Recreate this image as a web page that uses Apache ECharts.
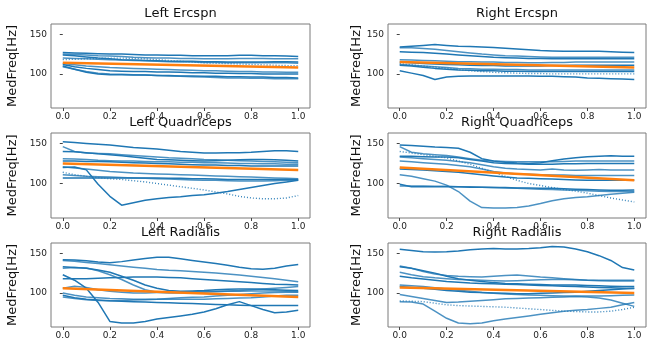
<!DOCTYPE html>
<html>
<head>
<meta charset="utf-8">
<script src="https://cdn.jsdelivr.net/npm/echarts@6/dist/echarts.min.js"></script>
<style>
  html, body { margin: 0; padding: 0; background: #fff; }
  #chart { width: 651px; height: 341px; }
</style>
</head>
<body>
<div id="chart"></div>
<script>
// sample positions along the normalised time axis
const xs = [0, 0.05, 0.1, 0.15, 0.2, 0.25, 0.3, 0.35, 0.4, 0.45, 0.5, 0.55, 0.6, 0.65, 0.7, 0.75, 0.8, 0.85, 0.9, 0.95, 1];
const xTicks = [0, 0.2, 0.4, 0.6, 0.8, 1];
const yTicks = [100, 150];
const titles = ['Left Ercspn', 'Right Ercspn', 'Left Quadriceps', 'Right Quadriceps', 'Left Radialis', 'Right Radialis'];

const leftErcspn = [
  [127,126.5,126,125.5,125,125,124.5,124,124,123.5,123.5,123,123,123,123,123.5,123.5,123,123,122.5,122],
  [125,124.5,124,123,122.5,122,121,120.5,120,120,119.5,119.5,119,119,119,119.5,119.5,119.5,119,119,119],
  [124,123,121.5,120,119,118,117.5,117,116.5,116,116,116,115.5,115.5,115,115,115,115,115.5,115.5,115],
  [120,119.5,119,118.5,118,117.5,117,116.5,116,115.5,115,115,114.5,114.5,114,114,114,114,114,114,113.5],
  [118,118.5,119,119.5,120,120,119.5,119,118,117,116,115,114,113.5,113,112.5,112,111.5,111,110.5,110.5],
  [113,111.5,110,109,108,107.5,107,106.5,106,105.5,105,104.5,104,104,103.5,103,103,102.5,102.5,102,102],
  [112,109,107,105.5,104,103.5,103,103,102.5,102.5,102,101.5,101.5,101,101,100.5,100.5,100,100,100,100],
  [109,106,103,101,100,99.5,99,98.5,98,97.5,97,96.5,96,95.5,95,95,94.5,94.5,94,94,94],
  [110,106,102,100,99,99,98.5,98.5,98,98,97.5,97.5,97,97,96.5,96.5,96,96,95.5,95.5,95]
];
const rightErcspn = [
  [134,135,136,137,136,135,134.5,134,133.5,132.5,131.5,130.5,129.5,129,128.5,128.5,128.5,128.5,128,127.5,127],
  [133,133,132,131,129.5,128,126.5,125,124,123,122.5,122,121.5,121,121,121,121,121,121,121,121],
  [128,127.5,127,126,125,124,123,122,121,120.5,120,119.5,119.5,119,119,119,119,119,119,119,119],
  [118,117.5,117,116.5,116,115.5,115.5,115,115,114.5,114.5,114,114,114.5,114.5,115,115,115,115,115,115],
  [115,114,113,112.5,112,111.5,111,110.5,110.5,110,110,110,110,110.5,110.5,111,111,111,111,111,111],
  [112,111,110,109,108,107,106.5,106,106,105.5,105.5,105,105,105,105,105,105,105,105,105,105],
  [111,110,108.5,107,106,105,104.5,104,104,103.5,103.5,103,103,103,103,103,103,103,103,103,103],
  [113,111.5,110,108.5,107,105.5,104,103,102,101.5,101,100.5,100.5,100,100,100,100,100,100,100,100],
  [104,101,98,93,96,97,97.5,97.5,97.5,97.5,97.5,97.5,97,97,96.5,96,95,94.5,94,93.5,93]
];
const leftQuad = [
  [152,151,150,149,148,146.5,145,144,143,141.5,140,139,138,138,138.5,138.5,139,140,141,141,140],
  [146,140,138,137.5,137,136,135,134,133,132,131.5,131,130,129.5,129,128.5,128,127.5,127,126.5,126],
  [140,139.5,138.5,137,136,134.5,133,131.5,130,129.5,129,128.5,128,128.5,129,129.5,130,130,129.5,129,128],
  [131,130.5,130,129,128.5,128,128,127.5,127,127,126.5,126.5,126,126,125.5,125,125,124.5,124.5,124,124],
  [128,128,127.5,127.5,127,126.5,126,125.5,125,124.5,124,123.5,123,123,122.5,122.5,122,122,122,122,122],
  [121,119.5,118,116.5,115,114,113,112.5,112,111.5,111,110.5,110,109.5,109,108.5,108,107.5,107,106.5,106],
  [120,120.5,117,99,84,73,76,79,81,82.5,83.5,85,86,88,90,92.5,95,97.5,100,102,104],
  [114,111,109,107.5,106,105,103.5,102,100,98,96,94,92,89.5,87,84,82,81,81,82,85],
  [107,107,107,107,107,107,107,107,107,106.5,106.5,106,106,105.5,105,105,105,105,105,105,105],
  [111,110,109,108.5,108,107.5,107,106.5,106,105.5,105,104.5,104,104,103.5,103,103,103,103.5,104,104]
];
const rightQuad = [
  [148,147.5,146.5,145.5,145,144,139,131,128,126.5,125.5,125,126,128.5,130.5,132,133.5,134,134.5,134,134],
  [146,139,137,136,135,133,131,129,128,127.5,127,127,127,127,127.5,128,128,128,128,128,128],
  [134,134,133.5,133,133,132,130,128,126,125,124.5,124,124,124,124.5,124.5,125,125,125,125,125],
  [133,132,131,130,129,127.5,126,123.5,121,119,118,117.5,117,118,117,116.5,117,117.5,117,117,117],
  [140,138,136,134,132,128,124,119,114,109,104,100,97.5,95,92.5,90.5,88,85,82,79.5,77],
  [128,127,126,125,124,122.5,121,118,115,113,112,111.5,111,110.5,110.5,110,110,110,110,110,110],
  [118,117.5,117,116,115,114,112.5,111,109.5,108,107,106.5,106,105.5,105,104.5,104,104,104,104,104],
  [111,109,106,103,98,90,78,70,69.5,69.5,70,72,75,78.5,81,82.5,83.5,85,86.5,88,89],
  [99,96,96,96,96,96,95.5,95.5,95,95,94.5,94.5,94,94,93.5,93,92.5,92,91.5,91.5,92],
  [97,97,97,96.5,96.5,96,96,95.5,95,94.5,94,93.5,93,92.5,92,91.5,91,90.5,90,90,90]
];
const leftRad = [
  [142,141.5,140.5,139,138,139.5,141.5,143.5,145,145,143,141,139,137,135,132.5,130.5,130,131,134,136],
  [141,140,138.5,137,135.5,134,132.5,131,129.5,128.5,128,127,126,125,124,122.5,121,119.5,118,116,114],
  [133,132,131,129,126,121,116,110,106,103,102,102.5,103,104,104.5,105,105,104.5,104,103.5,103],
  [131,132,131.5,128,123,117,110,104,101,100,100,100.5,101,101.5,102,102,102.5,102.5,102.5,102,101.5],
  [123,116,106,88,64,62,62,64,67,69,71,73,76,80,85,89,84,79,75,76,78],
  [106,108.5,107,104,102,101,100,100,100.5,101,101,101.5,102,102,102.5,103,104,105,106,107,108],
  [118,118,118,118.5,119,119.5,120,120,120,119.5,119,118,117,116,115,114,113,112,111,110.5,110],
  [100,97,95,94,93,92.5,92,92,92,92,92,92,92,92.5,93,93.5,94,95,96,97,97],
  [97,94,92,91,90,89.5,89,88.5,88,87.5,87,86.5,86,85.5,85,84.5,84,84,84,84,84],
  [95,93,91.5,90.5,90,90.5,91,91.5,92,93,94,94.5,95,96,97,98,99,100,100.5,101,101]
];
const rightRad = [
  [155,153.5,152,151.5,152,153,154.5,155.5,156,155.5,155.5,156,157,158.5,158,155.5,152,147,141,132,129],
  [134,131,127,124,122,121,120.5,120,121,122,122.5,121.5,120,119,118,117,116,115.5,115,115,115],
  [133,131,128,125,121,118,116,114.5,113,112,111.5,111,110.5,110,110,110,109.5,109,108.5,108,108],
  [126,123,120.5,119,118,117,116.5,116,115.5,115,115.5,116,116.5,117,117,116.5,116,116,116,116,116],
  [121,119,117.5,116,114.5,113.5,112.5,112,111.5,111,110.5,110,109.5,109,108.5,108,107.5,107,106.5,106,105.5],
  [110,109,108,106.5,105,103.5,102,100.5,99.5,98.5,98,97.5,97,96.5,96,96,96,96,96.5,97,97.5],
  [108,107,106,104.5,103,102,101,100.5,100,99.5,99,99,99.5,100,100.5,101,102,103,104,105,106],
  [98,95.5,93,90.5,88,88.5,89.5,90.5,91.5,92.5,93,93.5,94,94.5,95,95.5,95,93.5,91,87,83],
  [90,89.5,89,87,85,84,83.5,83,82.5,82,81,80,79,78,77,76.5,76,76,77,79,82],
  [89,88.5,86,77,68,62,61,62,65,67,69,71,73,75,77,78,79,80.5,82,85,88]
];

// straight mean lines, values at x = 0 and x = 1
const leftErcspnMean = [114, 108];
const rightErcspnMean = [115, 108];
const leftQuadMean = [125, 117];
const rightQuadMean = [120, 104];
const leftRadMean = [106, 95];
const rightRadMean = [107, 100];

const panels = [
  { rows: leftErcspn, mean: leftErcspnMean, dotted: [4] },
  { rows: rightErcspn, mean: rightErcspnMean, dotted: [7] },
  { rows: leftQuad, mean: leftQuadMean, dotted: [7] },
  { rows: rightQuad, mean: rightQuadMean, dotted: [4] },
  { rows: leftRad, mean: leftRadMean, dotted: [] },
  { rows: rightRad, mean: rightRadMean, dotted: [8] }
];

const cols = [{ left: 51, width: 259, gap: 32 }, { left: 388, width: 258, gap: 24 }];
const rowsPos = [{ top: 24, height: 84 }, { top: 133, height: 85 }, { top: 243, height: 84 }];
const blue = '#1f77b4';
const orange = '#ff7f0e';
const font = 'DejaVu Sans';

const grid = [], xAxis = [], yAxis = [], title = [], series = [];

panels.forEach((p, i) => {
  const c = cols[i % 2], r = rowsPos[Math.floor(i / 2)];
  grid.push({
    left: c.left, top: r.top, width: c.width, height: r.height,
    show: true, borderColor: '#7a7a7a', borderWidth: 1
  });
  title.push({
    text: titles[i], left: c.left + c.width / 2, top: r.top - 17,
    textAlign: 'center', padding: 0,
    textStyle: { fontFamily: font, fontSize: 13, fontWeight: 'normal', color: '#111' }
  });
  xAxis.push({
    type: 'value', gridIndex: i, min: -0.05, max: 1.05,
    axisLine: { show: false }, splitLine: { show: false },
    axisTick: { customValues: xTicks, length: 3, lineStyle: { color: '#444' } },
    axisLabel: {
      customValues: xTicks, margin: 4, fontFamily: font, fontSize: 9, color: '#222',
      formatter: v => v.toFixed(1)
    }
  });
  yAxis.push({
    type: 'value', gridIndex: i, min: 57, max: 163,
    name: 'MedFreq[Hz]', nameLocation: 'middle', nameGap: c.gap,
    nameTextStyle: { fontFamily: font, fontSize: 13, color: '#111' },
    axisLine: { show: false }, splitLine: { show: false },
    axisTick: { customValues: yTicks, length: 3, lineStyle: { color: '#444' } },
    axisLabel: { customValues: yTicks, margin: 4, fontFamily: font, fontSize: 9, color: '#222' }
  });
  p.rows.forEach((vals, k) => {
    const dotted = p.dotted.includes(k);
    series.push({
      type: 'line', xAxisIndex: i, yAxisIndex: i, silent: true,
      showSymbol: false, animation: false,
      data: xs.map((x, j) => [x, vals[j]]),
      lineStyle: {
        color: blue, width: dotted ? 1.4 : 1.5,
        type: dotted ? [1, 2] : 'solid',
        opacity: dotted ? 0.9 : (k % 2 ? 0.8 : 1)
      }
    });
  });
  series.push({
    type: 'line', xAxisIndex: i, yAxisIndex: i, silent: true,
    showSymbol: false, animation: false, z: 5,
    data: [[0, p.mean[0]], [1, p.mean[1]]],
    lineStyle: { color: orange, width: 2.5 }
  });
});

const chart = echarts.init(document.getElementById('chart'), null, { renderer: 'canvas' });
chart.setOption({ backgroundColor: '#fff', animation: false, title, grid, xAxis, yAxis, series });
</script>
</body>
</html>
